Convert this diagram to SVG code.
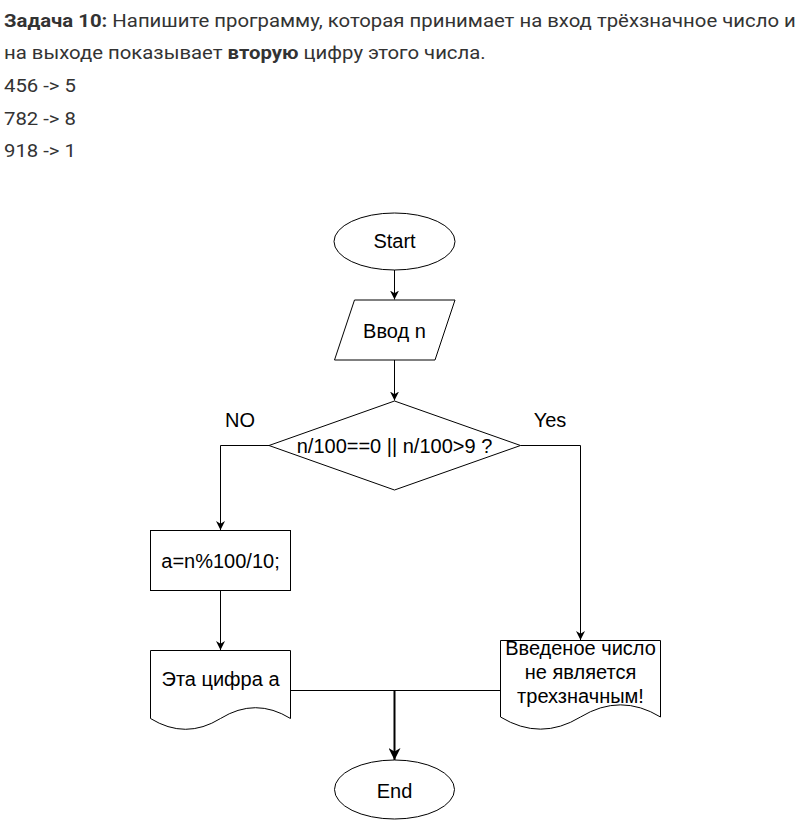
<svg xmlns="http://www.w3.org/2000/svg" width="801" height="821" viewBox="0 0 801 821">
<style>
.hd{font-family:Roboto,"Noto Sans",sans-serif;font-size:18px;fill:#333}
.b{font-weight:bold}
.shape{fill:#fff;stroke:#000;stroke-width:1}
.t{font-family:"Liberation Sans",Arial,sans-serif;font-size:20px;fill:#000;text-anchor:middle}
.c{fill:none;stroke:#000;stroke-width:1}
.c2{fill:none;stroke:#000;stroke-width:2}
</style>
<defs>
<marker id="ar" markerUnits="userSpaceOnUse" viewBox="0 0 10 10" refX="10" refY="5" markerWidth="9" markerHeight="10" orient="auto">
<path d="M0,0 L10,5 L0,10 L3,5 z" fill="#000"/>
</marker>
<marker id="ar2" markerUnits="userSpaceOnUse" viewBox="0 0 10 10" refX="10" refY="5" markerWidth="12" markerHeight="12" orient="auto">
<path d="M0,0 L10,5 L0,10 L3,5 z" fill="#000"/>
</marker>
</defs>
<rect width="801" height="821" fill="#fff"/>
<g id="header" transform="scale(1.13 1)">
<text class="hd" x="3.5" y="27"><tspan class="b">Задача 10:</tspan> Напишите программу, которая принимает на вход трёхзначное число и</text>
<text class="hd" x="3.5" y="59">на выходе показывает <tspan class="b">вторую</tspan> цифру этого числа.</text>
<text class="hd" x="3.5" y="92">456 -&gt; 5</text>
<text class="hd" x="3.5" y="125">782 -&gt; 8</text>
<text class="hd" x="3.5" y="157">918 -&gt; 1</text>
</g>
<g id="connectors">
<path class="c" d="M394.5,270 V299.5" marker-end="url(#ar)"/>
<path class="c" d="M394.5,360 V400.5" marker-end="url(#ar)"/>
<path class="c" d="M269,445.5 H220.5 V530" marker-end="url(#ar)"/>
<path class="c" d="M520.5,445.5 H580.5 V640" marker-end="url(#ar)"/>
<path class="c" d="M220.5,590 V650" marker-end="url(#ar)"/>
<path class="c" d="M290,690.5 H500"/>
<path class="c2" d="M394.5,690.5 V760" marker-end="url(#ar2)"/>
<text class="t" x="240" y="427">NO</text>
<text class="t" x="550" y="427">Yes</text>
</g>
<g id="start">
<ellipse class="shape" cx="394.5" cy="241.5" rx="60.5" ry="28.5"/>
<text class="t" x="394.5" y="248">Start</text>
</g>
<g id="input">
<path class="shape" d="M354.5,300 H455 L435,360 H334.5 Z"/>
<text class="t" x="394.5" y="338">Ввод n</text>
</g>
<g id="decision">
<path class="shape" d="M394.5,401 L520.5,445.5 L394.5,490 L269,445.5 Z"/>
<text class="t" x="394.5" y="453">n/100==0 || n/100&gt;9 ?</text>
</g>
<g id="calc">
<rect class="shape" x="150.5" y="530.5" width="140" height="60"/>
<text class="t" x="220.5" y="568">a=n%100/10;</text>
</g>
<g id="outDigit">
<path class="shape" d="M150.5,650.5 H290.5 V718.5 Q255.5,696.9 220.5,718.5 Q185.5,740.1 150.5,718.5 Z"/>
<text class="t" x="220.5" y="686">Эта цифра а</text>
</g>
<g id="outError">
<path class="shape" d="M500.5,640.5 H660.5 V717 Q620.5,692.7 580.5,717 Q540.5,741.3 500.5,717 Z"/>
<text class="t" x="580.5" y="655">Введеное число</text>
<text class="t" x="580.5" y="679">не является</text>
<text class="t" x="580.5" y="703">трехзначным!</text>
</g>
<g id="end">
<ellipse class="shape" cx="394.5" cy="789.5" rx="60" ry="29.5"/>
<text class="t" x="394.5" y="797.5">End</text>
</g>
</svg>
